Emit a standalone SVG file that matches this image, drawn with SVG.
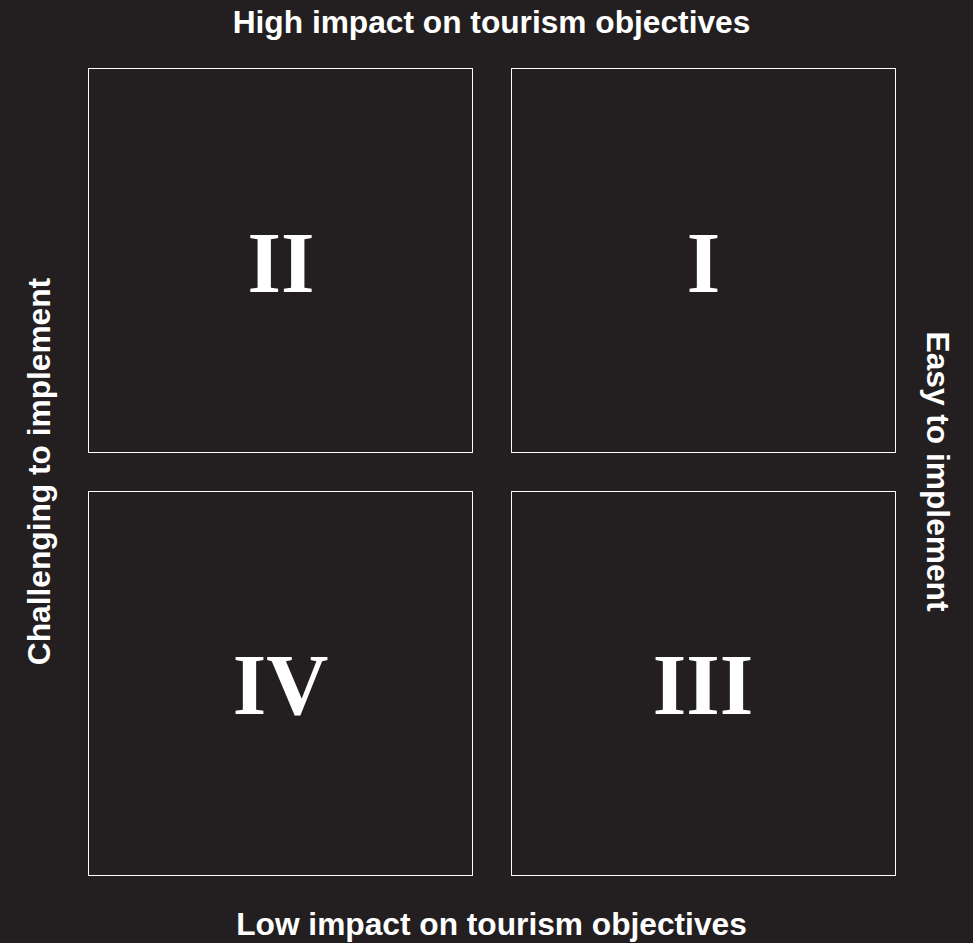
<svg xmlns="http://www.w3.org/2000/svg" width="973" height="943" viewBox="0 0 973 943">
<style>
.box{fill:#231f20;stroke:#ffffff;stroke-width:1}
.axis{font-family:"Liberation Sans",Arial,sans-serif;font-weight:bold;font-size:31.7px;fill:#ffffff;text-anchor:middle}
.num{font-family:"Liberation Serif","Times New Roman",serif;font-weight:bold;font-size:86px;fill:#ffffff;text-anchor:middle}
</style>
<rect width="973" height="943" fill="#231f20"/>
<g id="labels">
<text class="axis" x="491.5" y="33">High impact on tourism objectives</text>
<text class="axis" x="491.5" y="935">Low impact on tourism objectives</text>
<text class="axis" transform="translate(50,471.5) rotate(-90)">Challenging to implement</text>
<text class="axis" transform="translate(927,471.5) rotate(90)">Easy to implement</text>
</g>
<g id="q2"><rect class="box" x="88.5" y="68.5" width="384" height="384"/><text class="num" x="281" y="292">II</text></g>
<g id="q1"><rect class="box" x="511.5" y="68.5" width="384" height="384"/><text class="num" x="703.5" y="292">I</text></g>
<g id="q4"><rect class="box" x="88.5" y="491.5" width="384" height="384"/><text class="num" x="280.5" y="714">IV</text></g>
<g id="q3"><rect class="box" x="511.5" y="491.5" width="384" height="384"/><text class="num" x="703" y="714">III</text></g>
<g id="connectors"></g>
</svg>
